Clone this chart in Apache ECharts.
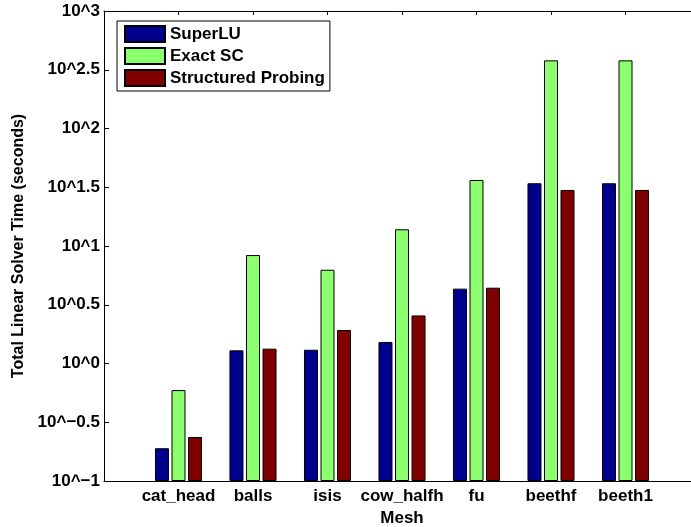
<!DOCTYPE html>
<html>
<head>
<meta charset="utf-8">
<script src="https://cdn.jsdelivr.net/npm/echarts@6/dist/echarts.min.js"></script>
<style>
html,body{margin:0;padding:0;background:#fff;overflow:hidden;}
#chart{width:691px;height:527px;}
</style>
</head>
<body>
<div id="chart"></div>
<script>
// Data (solver time in seconds)
var categories = ['cat_head', 'balls', 'isis', 'cow_halfh', 'fu', 'beethf', 'beeth1'];
var superLU = [0.190, 1.294, 1.309, 1.524, 4.335, 34.20, 34.20];
var exactSC = [0.594, 8.375, 6.281, 13.87, 36.48, 380.2, 380.2];
var structuredProbing = [0.237, 1.337, 1.928, 2.564, 4.416, 29.99, 29.99];
var seriesNames = ['SuperLU', 'Exact SC', 'Structured Probing'];
var yTickExponents = [-1, -0.5, 0, 0.5, 1, 1.5, 2, 2.5, 3];

var FONT = 'Liberation Sans, Arial, Helvetica, sans-serif';
var Y_MIN_EXP = yTickExponents[0];

// axis: shifted log10 scale so bars start at the bottom (10^-1)
function toAxis(v) { return Math.log10(v) - Y_MIN_EXP; }
function padCats(arr) { return [''].concat(arr).concat(['']); }
function padData(arr) { return ['-'].concat(arr.map(toAxis)).concat(['-']); }

var cats = padCats(categories);
var colors = ['#00008f', '#8cff6e', '#800000'];
var values = [superLU, exactSC, structuredProbing];

var chart = echarts.init(document.getElementById('chart'), null, {renderer: 'canvas'});
var option = {
  animation: false,
  backgroundColor: '#fff',
  grid: {left: 104, top: 11, width: 596, height: 470, containLabel: false, outerBoundsMode: 'none'},
  legend: {
    data: seriesNames,
    orient: 'vertical',
    left: 117,
    top: 21,
    itemWidth: 40,
    itemHeight: 16,
    itemGap: 4,
    padding: [4, 5, 4, 7],
    borderColor: '#000',
    borderWidth: 1,
    backgroundColor: '#fff',
    icon: 'rect',
    textStyle: {fontFamily: FONT, fontWeight: 'bold', fontSize: 17, color: '#000'}
  },
  xAxis: [{
    type: 'category',
    data: cats,
    boundaryGap: false,
    position: 'bottom',
    name: 'Mesh',
    nameLocation: 'middle',
    nameGap: 27,
    nameTextStyle: {fontFamily: FONT, fontWeight: 'bold', fontSize: 17, color: '#000', verticalAlign: 'top'},
    axisLine: {lineStyle: {color: '#000', width: 1}},
    axisTick: {show: false},
    axisLabel: {fontFamily: FONT, fontWeight: 'bold', fontSize: 17, color: '#000', margin: 7, interval: 0}
  }, {
    type: 'category',
    data: cats,
    boundaryGap: false,
    position: 'top',
    axisLine: {lineStyle: {color: '#000', width: 1}},
    axisTick: {show: true, inside: true, length: 4, interval: 0, lineStyle: {color: '#000'}},
    axisLabel: {show: false}
  }],
  yAxis: {
    type: 'value',
    min: 0,
    max: yTickExponents[yTickExponents.length - 1] - Y_MIN_EXP,
    interval: 0.5,
    name: 'Total Linear Solver Time (seconds)',
    nameLocation: 'middle',
    nameGap: 76,
    nameTextStyle: {fontFamily: FONT, fontWeight: 'bold', fontSize: 16, color: '#000'},
    axisLine: {show: true, lineStyle: {color: '#000', width: 1}},
    axisTick: {show: true, inside: true, length: 5, lineStyle: {color: '#000'}},
    splitLine: {show: false},
    axisLabel: {
      fontFamily: FONT, fontWeight: 'bold', fontSize: 17, color: '#000', margin: 4,
      formatter: function (v) {
        var e = Math.round((v + Y_MIN_EXP) * 10) / 10;
        return '10^' + (e < 0 ? '\u2212' + Math.abs(e) : String(e));
      }
    }
  },
  series: seriesNames.map(function (n, i) {
    return {
      name: n,
      type: 'bar',
      xAxisIndex: 0,
      data: padData(values[i]),
      barWidth: 14,
      barGap: '18%',
      itemStyle: {color: colors[i], borderColor: '#000', borderWidth: 1}
    };
  })
};
chart.setOption(option);
</script>
</body>
</html>
